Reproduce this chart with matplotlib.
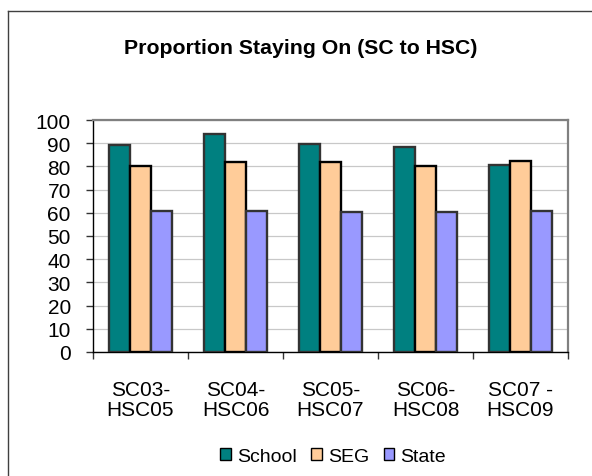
import numpy as np
import matplotlib
matplotlib.use("Agg")
import matplotlib.pyplot as plt
from matplotlib.patches import Rectangle
from matplotlib.lines import Line2D

plt.rcParams['font.family'] = ['Liberation Sans', 'DejaVu Sans']

# --- data ---
categories = ["SC03-\nHSC05", "SC04-\nHSC06", "SC05-\nHSC07", "SC06-\nHSC08", "SC07 -\nHSC09"]
school = [89.4, 93.8, 89.6, 88.5, 80.6]
seg = [80.0, 81.7, 82.0, 80.2, 82.3]
state = [60.8, 60.8, 60.5, 60.2, 60.9]
series_names = ["School", "SEG", "State"]

W, H = 592, 477
fig = plt.figure(figsize=(W / 100, H / 100), dpi=100)
ax = fig.add_axes([93 / W, 1 - 353 / H, 475 / W, 232 / H])

x = np.arange(len(categories))
bw = 0.221
colors = ["#008080", "#FFCC99", "#9999FF"]
edges = ["#333333", "#000000", "#333333"]
for k, vals in enumerate([school, seg, state]):
    ax.bar(x + (k - 1) * bw, vals, width=bw, color=colors[k], edgecolor=edges[k],
           linewidth=1.7, zorder=3, label=series_names[k])

ax.set_xlim(-0.5, len(categories) - 0.5)
ax.set_ylim(0, 100)
ax.set_yticks(np.arange(0, 101, 10))
ax.yaxis.grid(True, color="#C8C8C8", linewidth=0.9, zorder=0)
ax.set_xticks(x)
ax.set_xticklabels(categories, fontsize=15, linespacing=1.1)
ax.set_xticks(np.arange(-0.5, len(categories), 1), minor=True)
ax.tick_params(axis="x", which="major", length=0, pad=20)
ax.tick_params(axis="x", which="minor", length=5, width=1, color="#333333")
ax.tick_params(axis="y", labelsize=15, length=5, width=1, pad=11, color="#333333")

for s in ["top", "right"]:
    ax.spines[s].set_color("#808080")
    ax.spines[s].set_linewidth(1.6)
for s in ["left", "bottom"]:
    ax.spines[s].set_color("#000000")
    ax.spines[s].set_linewidth(1.0)

fig.text(301 / W, 1 - 49 / H, "Proportion Staying On (SC to HSC)", ha="center", va="center",
         fontsize=15.3, fontweight="bold")

# outer chart border (right and bottom edges fall outside the image)
fig.add_artist(Line2D([7.5 / W, 7.5 / W], [0, 1 - 11.5 / H], color="#404040", linewidth=1.0,
                      transform=fig.transFigure))
fig.add_artist(Line2D([7.5 / W, 1], [1 - 11.5 / H, 1 - 11.5 / H], color="#404040", linewidth=1.0,
                      transform=fig.transFigure))

handles = [Rectangle((0, 0), 1, 1, facecolor=c, edgecolor="#000000", linewidth=1.0) for c in colors]
fig.legend(handles, series_names, loc="lower center", bbox_to_anchor=(333 / W, 1.5 / H),
           ncol=3, frameon=False, fontsize=14, handlelength=0.55, handleheight=0.55,
           handletextpad=0.3, columnspacing=0.75, borderpad=0)

fig.savefig("out.png", dpi=100)
